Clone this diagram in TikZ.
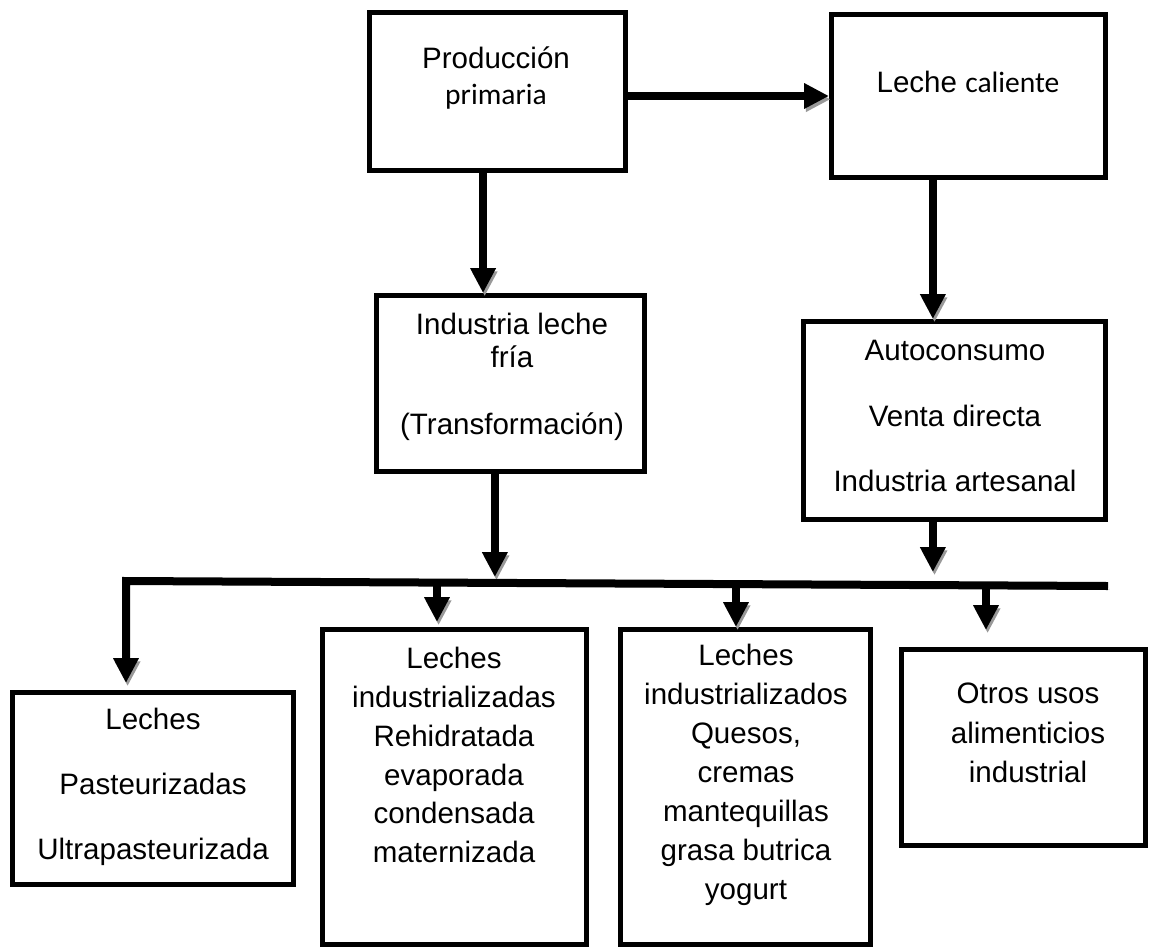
\documentclass[tikz,border=0pt]{standalone}
\usepackage{fontspec}
\setmainfont{Liberation Sans}
\newfontfamily\calib{Carlito}
\usetikzlibrary{arrows.meta,positioning}

\begin{document}
\begin{tikzpicture}[x=0.025cm, y=-0.025cm,
    box/.style={draw, line width=0.125cm},
    txt/.style={align=center, inner sep=0pt,
                font=\fontsize{21}{#1}\selectfont},
    txt/.default=27.7,
    arr/.style={-{Triangle[length=0.62cm, width=0.6cm]}, line width=0.2cm,
                preaction={draw=black!40,
                           transform canvas={shift={(0.04cm,-0.08cm)}}}}
  ]
  \useasboundingbox (0,0) rectangle (1152,949);

  % boxes
  \node[box, minimum width=6.4cm,   minimum height=3.95cm]  (prod)   at (497.5,91.5)  {};
  \node[box, minimum width=6.85cm,  minimum height=4.075cm] (lechec) at (968.5,96)    {};
  \node[box, minimum width=6.7cm,   minimum height=4.4cm]   (ind)    at (510.5,383.5) {};
  \node[box, minimum width=7.55cm,  minimum height=4.95cm]  (auto)   at (954.5,420.5) {};
  \node[box, minimum width=7.025cm, minimum height=4.8cm]   (pas)    at (153,788.5)   {};
  \node[box, minimum width=6.6cm,   minimum height=7.875cm] (rehi)   at (454.5,787)   {};
  \node[box, minimum width=6.25cm,  minimum height=7.875cm] (ques)   at (745.5,787)   {};
  \node[box, minimum width=6.1cm,   minimum height=4.9cm]   (otros)  at (1023.5,747.5) {};

  % texts
  \node[txt=26.3] (prodT) at (496,78) {Producción\\{\calib primaria}};
  \node[txt] (lechecT) at (968,82) {Leche {\calib caliente}};
  \node[txt=23.5] (indT) at (512,377) {Industria leche\\fría\\[0.85cm](Transformación)};
  \node[txt=46.9] (autoT) at (955,416) {Autoconsumo\\Venta directa\\Industria artesanal};
  \node[txt=46.2] (pasT) at (153,787) {Leches\\Pasteurizadas\\Ultrapasteurizada};
  \node[txt] (rehiT) at (454,755) {Leches\\industrializadas\\Rehidratada\\evaporada\\condensada\\maternizada};
  \node[txt] (quesT) at (746,775) {Leches\\industrializados\\Quesos,\\cremas\\mantequillas\\grasa butrica\\yogurt};
  \node[txt=28] (otrosT) at (1028,733) {Otros usos\\alimenticios\\industrial};

  % bus points
  \coordinate (busL) at (126,581);
  \coordinate (busR) at (1108,586);
  \coordinate (d2) at (437,586);
  \coordinate (d3) at (736,587);
  \coordinate (d4) at (986,588.5);

  % arrows
  \draw[arr] (prod.east |- lechec.west) -- (lechec.west);
  \draw[arr] ([xshift=-0.36cm]prod.south) -- ([xshift=-0.36cm]prod.south |- ind.north);
  \draw[arr] ([xshift=-0.89cm]lechec.south) -- ([xshift=-0.89cm]lechec.south |- auto.north);
  \draw[arr, shorten >=0.1cm] ([xshift=-0.39cm]ind.south) -- ([xshift=-0.39cm]ind.south |- busL);
  \draw[arr, shorten >=0.35cm] ([xshift=-0.54cm]auto.south) -- ([xshift=-0.54cm]auto.south |- busR);
  \draw[arr, shorten >=0.175cm] (busR) -- (busL) -- (busL |- pas.north);
  \draw[arr, shorten >=0.125cm] (d2) -- (d2 |- rehi.north);
  \draw[arr] (d3) -- (d3 |- ques.north);
  \draw[arr, shorten >=0.425cm] (d4) -- (d4 |- otros.north);
\end{tikzpicture}
\end{document}
